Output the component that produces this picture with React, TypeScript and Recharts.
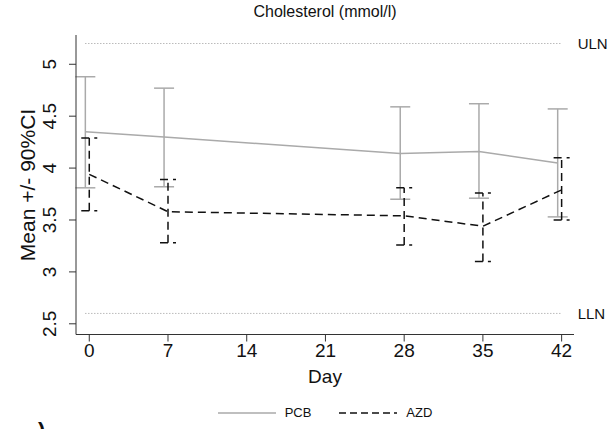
import React from 'react';
import {
  ComposedChart,
  Line,
  XAxis,
  YAxis,
  ErrorBar,
  ReferenceLine,
  Legend,
} from 'recharts';

// study days (x ticks too)
const days = [0, 7, 28, 35, 42];
const xTicks = [0, 7, 14, 21, 28, 35, 42];
const yTicks = [2.5, 3, 3.5, 4, 4.5, 5];

// placebo arm: mean and 90% CI limits
const pcbMean = [4.35, 4.3, 4.14, 4.16, 4.05];
const pcbLow = [3.81, 3.82, 3.7, 3.71, 3.53];
const pcbHigh = [4.88, 4.77, 4.59, 4.62, 4.57];
const pcbDodge = -0.35; // PCB points drawn slightly left of the day

// active arm
const azdMean = [3.94, 3.58, 3.54, 3.44, 3.79];
const azdLow = [3.59, 3.28, 3.26, 3.1, 3.5];
const azdHigh = [4.29, 3.89, 3.81, 3.76, 4.1];

// normal range limits
const uln = 5.2;
const lln = 2.6;

const legendItems = [
  { name: 'PCB', color: '#aaaaaa', dash: undefined as string | undefined },
  { name: 'AZD', color: '#111111', dash: '7 4' },
];

const FONT = '"Liberation Sans", Arial, Helvetica, sans-serif';

const pcbRows = days.map((d, i) => ({
  day: d + pcbDodge,
  mean: pcbMean[i],
  err: [pcbMean[i] - pcbLow[i], pcbHigh[i] - pcbMean[i]],
}));

const azdRows = days.map((d, i) => ({
  day: d,
  mean: azdMean[i],
  err: [azdMean[i] - azdLow[i], azdHigh[i] - azdMean[i]],
}));

function XTick({ x, y, payload }: any) {
  return (
    <text x={x} y={y + 13} textAnchor="middle" fontSize={19} fontFamily={FONT} fill="#111">
      {payload.value}
    </text>
  );
}

function YTick({ x, y, payload }: any) {
  const bx = x - 11;
  return (
    <text
      x={bx}
      y={y}
      transform={`rotate(-90 ${bx} ${y})`}
      textAnchor="middle"
      fontSize={19}
      fontFamily={FONT}
      fill="#111"
    >
      {payload.value}
    </text>
  );
}

function ChartLegend() {
  return (
    <div
      style={{
        display: 'flex',
        justifyContent: 'center',
        alignItems: 'center',
        gap: 28,
        fontFamily: FONT,
        fontSize: 13,
        color: '#111',
      }}
    >
      {legendItems.map((it) => (
        <div key={it.name} style={{ display: 'flex', alignItems: 'center', gap: 9 }}>
          <svg width={58} height={6}>
            <line
              x1={0}
              y1={3}
              x2={58}
              y2={3}
              stroke={it.color}
              strokeWidth={1.5}
              strokeDasharray={it.dash}
            />
          </svg>
          <span>{it.name}</span>
        </div>
      ))}
    </div>
  );
}

export default function App() {
  return (
    <div
      style={{
        position: 'absolute',
        left: 0,
        top: 0,
        width: 609,
        height: 429,
        background: '#fff',
        overflow: 'hidden',
      }}
    >
      <div
        style={{
          position: 'absolute',
          left: 76,
          width: 498,
          top: 2,
          textAlign: 'center',
          fontFamily: FONT,
          fontSize: 16,
          lineHeight: '20px',
          color: '#111',
        }}
      >
        Cholesterol (mmol/l)
      </div>
      {/* clipped panel mark at the bottom edge */}
      <div
        style={{
          position: 'absolute',
          left: 38,
          top: 420,
          fontFamily: FONT,
          fontSize: 22,
          fontWeight: 'bold',
          lineHeight: '22px',
          color: '#111',
        }}
      >
        )
      </div>
      <ComposedChart
        width={609}
        height={429}
        margin={{ top: 35, right: 35, bottom: 39.5, left: 0 }}
        style={{ position: 'absolute', left: 0, top: 0 }}
      >
        <XAxis
          type="number"
          dataKey="day"
          domain={[-1.18, 43.1]}
          ticks={xTicks}
          allowDataOverflow
          tick={<XTick />}
          tickSize={7}
          tickMargin={2}
          height={55}
          stroke="#333"
          label={{
            content: () => (
              <text x={325} y={383} textAnchor="middle" fontSize={19} fontFamily={FONT} fill="#111">
                Day
              </text>
            ),
          }}
        />
        <YAxis
          type="number"
          domain={[2.397, 5.282]}
          ticks={yTicks}
          allowDataOverflow
          width={76}
          tick={<YTick />}
          tickSize={7}
          tickMargin={2}
          stroke="#333"
          label={{
            content: () => (
              <text
                x={35}
                y={185}
                transform="rotate(-90 35 185)"
                textAnchor="middle"
                fontSize={21}
                fontFamily={FONT}
                fill="#111"
              >
                Mean +/- 90%CI
              </text>
            ),
          }}
        />
        <ReferenceLine
          segment={[
            { x: pcbDodge, y: uln },
            { x: 42, y: uln },
          ]}
          stroke="#9a9a9a"
          strokeDasharray="1 2"
          ifOverflow="visible"
          label={{ value: 'ULN', position: 'right', offset: 16, fontSize: 15, fontFamily: FONT, fill: '#111' }}
        />
        <ReferenceLine
          segment={[
            { x: pcbDodge, y: lln },
            { x: 42, y: lln },
          ]}
          stroke="#9a9a9a"
          strokeDasharray="1 2"
          ifOverflow="visible"
          label={{ value: 'LLN', position: 'right', offset: 16, fontSize: 15, fontFamily: FONT, fill: '#111' }}
        />
        <Line
          data={pcbRows}
          dataKey="mean"
          name="PCB"
          type="linear"
          stroke="#aaaaaa"
          strokeWidth={1.5}
          dot={false}
          activeDot={false}
          isAnimationActive={false}
        >
          <ErrorBar dataKey="err" direction="y" width={10} stroke="#aaaaaa" strokeWidth={1.5} />
        </Line>
        <Line
          data={azdRows}
          dataKey="mean"
          name="AZD"
          type="linear"
          stroke="#111111"
          strokeWidth={1.5}
          strokeDasharray="8 5"
          dot={false}
          activeDot={false}
          isAnimationActive={false}
        >
          <ErrorBar
            dataKey="err"
            direction="y"
            width={8}
            stroke="#111111"
            strokeWidth={1.5}
            strokeDasharray="8 5"
          />
        </Line>
        <Legend
          layout="horizontal"
          verticalAlign="middle"
          align="center"
          content={() => <ChartLegend />}
          wrapperStyle={{ top: 405, left: 76, width: 498, height: 20 }}
        />
      </ComposedChart>
    </div>
  );
}
